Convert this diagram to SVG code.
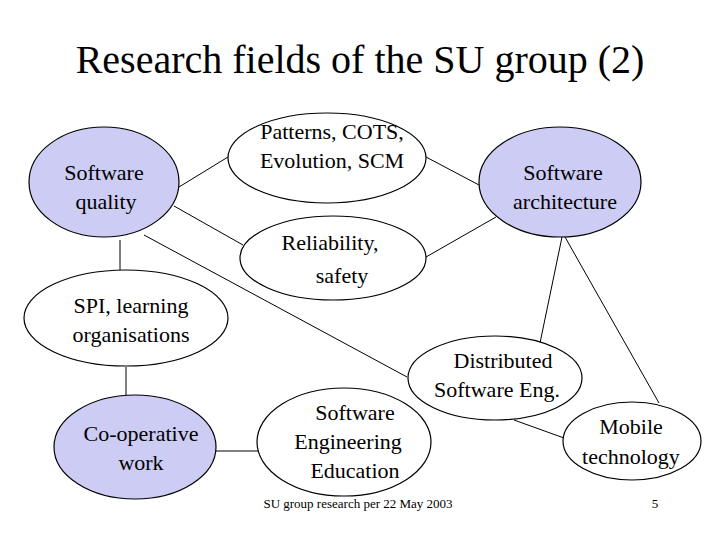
<svg xmlns="http://www.w3.org/2000/svg" width="720" height="540" viewBox="0 0 720 540">
<style>
.n{stroke:#000;stroke-width:1.2;fill:#fff}
.h{fill:#ccccf5}
text{font-family:'Times New Roman','Liberation Serif','DejaVu Serif',serif;text-anchor:middle;fill:#000}
.t{font-size:22px}
#connectors line{stroke:#000;stroke-width:1}
</style>
<rect width="720" height="540" fill="#fff"/>
<text x="360" y="73" font-size="40">Research fields of the SU group (2)</text>
<g id="connectors">
<line x1="179" y1="187" x2="228" y2="157"/>
<line x1="174" y1="206" x2="243" y2="245"/>
<line x1="144" y1="235" x2="407" y2="377"/>
<line x1="120" y1="240" x2="120" y2="270"/>
<line x1="126" y1="367" x2="126" y2="396"/>
<line x1="216" y1="451" x2="258" y2="451"/>
<line x1="426" y1="157" x2="479" y2="185"/>
<line x1="426" y1="257" x2="496" y2="217"/>
<line x1="562" y1="237" x2="540" y2="343"/>
<line x1="565" y1="237" x2="659" y2="403"/>
<line x1="514" y1="420" x2="564" y2="438"/>
</g>
<g id="quality"><ellipse class="n h" cx="104" cy="182" rx="75" ry="55"/><text class="t" x="104" y="180">Software</text><text class="t" x="106" y="209">quality</text></g>
<g id="patterns"><ellipse class="n" cx="327" cy="158" rx="99" ry="45"/><text class="t" x="332" y="139">Patterns, COTS,</text><text class="t" x="332" y="168">Evolution, SCM</text></g>
<g id="architecture"><ellipse class="n h" cx="560" cy="182" rx="81" ry="55"/><text class="t" x="563" y="180">Software</text><text class="t" x="565" y="209">architecture</text></g>
<g id="reliability"><ellipse class="n" cx="333" cy="258" rx="93" ry="42"/><text class="t" x="330" y="250">Reliability,</text><text class="t" x="342" y="283">safety</text></g>
<g id="spi"><ellipse class="n" cx="126" cy="318" rx="102" ry="48"/><text class="t" x="131" y="313">SPI, learning</text><text class="t" x="131" y="342">organisations</text></g>
<g id="cooperative"><ellipse class="n h" cx="135" cy="447" rx="81" ry="52"/><text class="t" x="141" y="441">Co-operative</text><text class="t" x="141" y="470">work</text></g>
<g id="education"><ellipse class="n" cx="344" cy="442" rx="87" ry="54"/><text class="t" x="355" y="420">Software</text><text class="t" x="348" y="449">Engineering</text><text class="t" x="355" y="478">Education</text></g>
<g id="distributed"><ellipse class="n" cx="495" cy="378" rx="87" ry="42"/><text class="t" x="503" y="368">Distributed</text><text class="t" x="497" y="397">Software Eng.</text></g>
<g id="mobile"><ellipse class="n" cx="632" cy="441" rx="69" ry="39"/><text class="t" x="631" y="434">Mobile</text><text class="t" x="631" y="464">technology</text></g>
<text x="358" y="508" font-size="13">SU group research per 22 May 2003</text>
<text x="655" y="508" font-size="13">5</text>
</svg>
